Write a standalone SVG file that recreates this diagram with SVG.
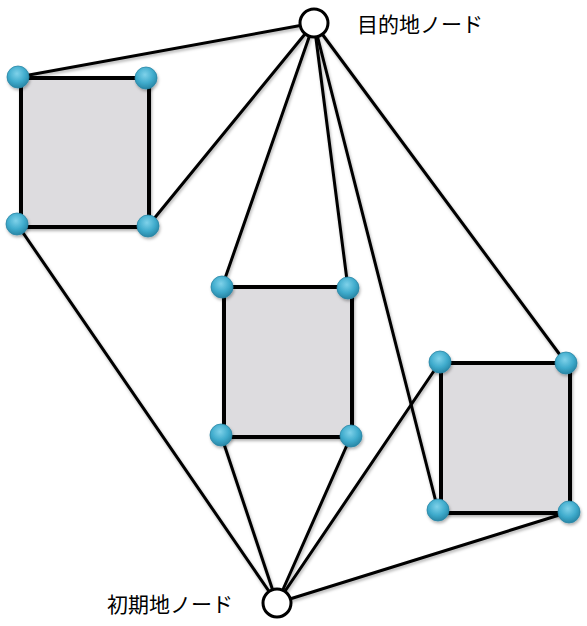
<svg xmlns="http://www.w3.org/2000/svg" width="587" height="626" viewBox="0 0 587 626">
<style>
.edge{stroke:#000;stroke-width:3;fill:none;stroke-linecap:round}
.box{fill:#dddcdf;stroke:#000;stroke-width:4}
.port{fill:url(#ball);stroke:#2a87a6;stroke-width:0.8}
.term{fill:#fff;stroke:#000;stroke-width:3}
.lbl{font-family:"Noto Sans CJK JP","Noto Sans CJK SC",sans-serif;font-size:21px;fill:#000}
</style>
<defs>
<radialGradient id="ball" cx="0.45" cy="0.35" r="0.7">
<stop offset="0" stop-color="#7fd2ea"/>
<stop offset="0.55" stop-color="#3fabcc"/>
<stop offset="1" stop-color="#237f9e"/>
</radialGradient>
<filter id="sh" x="-20%" y="-20%" width="140%" height="140%">
<feDropShadow dx="1" dy="2" stdDeviation="1.5" flood-opacity="0.3"/>
</filter>
</defs>
<g id="connectors" filter="url(#sh)">
<line class="edge" x1="314" y1="23" x2="18" y2="77"/>
<line class="edge" x1="314" y1="23" x2="148" y2="226"/>
<line class="edge" x1="314" y1="23" x2="222" y2="287"/>
<line class="edge" x1="314" y1="23" x2="348" y2="288"/>
<line class="edge" x1="314" y1="23" x2="438" y2="510"/>
<line class="edge" x1="314" y1="23" x2="566" y2="363"/>
<line class="edge" x1="277" y1="603" x2="17" y2="224"/>
<line class="edge" x1="277" y1="603" x2="221" y2="435"/>
<line class="edge" x1="277" y1="603" x2="351" y2="436"/>
<line class="edge" x1="277" y1="603" x2="440" y2="362"/>
<line class="edge" x1="277" y1="603" x2="569" y2="512"/>
</g>
<g id="region1" filter="url(#sh)">
<rect class="box" x="21" y="78" width="128" height="149"/>
</g>
<g id="region2" filter="url(#sh)">
<rect class="box" x="224" y="287" width="128" height="150"/>
</g>
<g id="region3" filter="url(#sh)">
<rect class="box" x="441" y="363" width="129" height="150"/>
</g>
<g id="ports" filter="url(#sh)">
<circle class="port" cx="18" cy="77" r="11"/>
<circle class="port" cx="146" cy="78" r="11"/>
<circle class="port" cx="17" cy="224" r="11"/>
<circle class="port" cx="148" cy="226" r="11"/>
<circle class="port" cx="222" cy="287" r="11"/>
<circle class="port" cx="348" cy="288" r="11"/>
<circle class="port" cx="221" cy="435" r="11"/>
<circle class="port" cx="351" cy="436" r="11"/>
<circle class="port" cx="440" cy="362" r="11"/>
<circle class="port" cx="566" cy="363" r="11"/>
<circle class="port" cx="438" cy="510" r="11"/>
<circle class="port" cx="569" cy="512" r="11"/>
</g>
<g id="dest">
<circle class="term" cx="314" cy="23" r="14"/>
<text class="lbl" x="357" y="32">目的地ノード</text>
</g>
<g id="start">
<circle class="term" cx="277" cy="603" r="14"/>
<text class="lbl" x="107" y="612">初期地ノード</text>
</g>
</svg>
